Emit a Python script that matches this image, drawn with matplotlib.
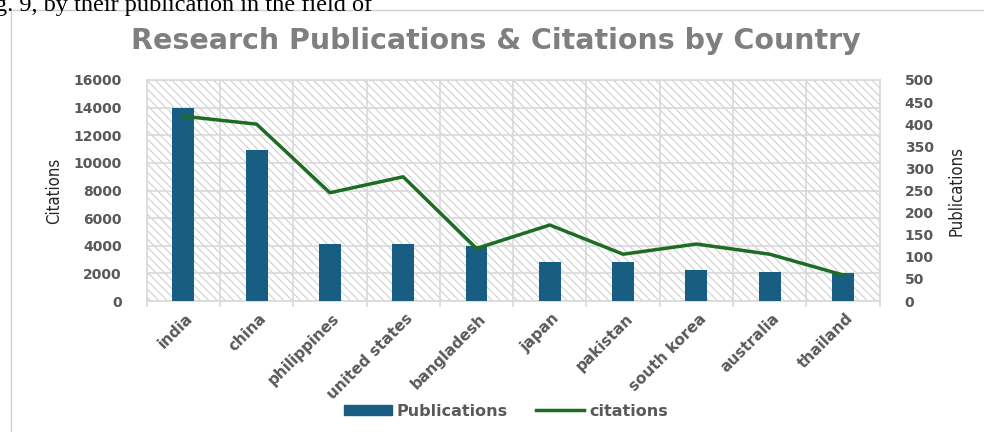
import matplotlib
matplotlib.use("Agg")
import matplotlib.pyplot as plt
from matplotlib.patches import Rectangle
from matplotlib.lines import Line2D
import numpy as np

# data
countries = ['india', 'china', 'philippines', 'united states', 'bangladesh',
             'japan', 'pakistan', 'south korea', 'australia', 'thailand']
bar_values = [14000, 10900, 4130, 4130, 4000, 2850, 2850, 2220, 2120, 2000]
line_values = [418, 400, 245, 281, 119, 172, 106, 129, 106, 59]

bar_color = '#175e82'
line_color = '#1e6b23'
text_grey = '#595959'
grid_grey = '#d9d9d9'

plt.rcParams['hatch.linewidth'] = 0.7
plt.rcParams['hatch.color'] = '#cacaca'

fig = plt.figure(figsize=(9.84, 4.32), dpi=100)
fig.patch.set_facecolor('white')

# piece of page text above the chart frame
fig.text(-0.005, 0.988, 'g. 9, by their publication in the field of',
         fontsize=17.5, family='Liberation Serif', color='black', va='center')

# chart frame
fig.patches.append(Rectangle((0.011, -0.01), 1.0, 0.987, transform=fig.transFigure,
                             facecolor='none', edgecolor='#d0d0d0', lw=1.0, zorder=0))

ax = fig.add_axes([0.149, 0.303, 0.745, 0.512])
ax.set_facecolor('white')
x = np.arange(len(countries))

# hatched plot background
ax.add_patch(Rectangle((0, 0), 1, 1, transform=ax.transAxes, facecolor='white',
                       edgecolor='#cacaca', hatch='\\\\\\\\', lw=0, zorder=0))

ax.bar(x, bar_values, width=0.3, color=bar_color, zorder=3)
ax.set_xlim(-0.5, len(countries) - 0.5)
ax.set_ylim(0, 16000)
ax.set_yticks(np.arange(0, 16001, 2000))
ax.set_xticks(x + 0.03)
ax.set_xticklabels(countries, rotation=45, ha='right', rotation_mode='anchor',
                   fontsize=11, fontweight='bold', color=text_grey)
ax.tick_params(axis='x', length=0, pad=7)
ax.set_xticks(np.arange(-0.5, len(countries), 1), minor=True)
ax.tick_params(axis='x', which='minor', length=4, color=grid_grey, width=1.2)
ax.tick_params(axis='y', length=0, pad=18, labelsize=10, labelcolor=text_grey)
for t in ax.get_yticklabels():
    t.set_fontweight('bold')

ax.grid(axis='y', color=grid_grey, lw=1.2, zorder=1)
ax.grid(axis='x', which='minor', color=grid_grey, lw=1.2, zorder=1)
ax.set_axisbelow(True)
for s in ax.spines.values():
    s.set_color(grid_grey)
    s.set_linewidth(1.2)

ax.set_ylabel('Citations', family='DejaVu Sans', fontstretch='condensed',
              fontsize=12, color='#262626', labelpad=7)

ax2 = ax.twinx()
ax2.plot(x, line_values, color=line_color, lw=2.5, zorder=4)
ax2.set_ylim(0, 500)
ax2.set_yticks(np.arange(0, 501, 50))
ax2.tick_params(axis='y', length=0, pad=18, labelsize=10, labelcolor=text_grey)
for t in ax2.get_yticklabels():
    t.set_fontweight('bold')
for s in ax2.spines.values():
    s.set_visible(False)
ax2.set_ylabel('Publications', family='DejaVu Sans', fontstretch='condensed',
               fontsize=12, color='#262626', labelpad=10)

fig.text(0.504, 0.905, 'Research Publications & Citations by Country',
         ha='center', va='center', fontsize=20.5, fontweight='bold', color='#7f7f7f')

handles = [Rectangle((0, 0), 1, 1, color=bar_color),
           Line2D([0], [0], color=line_color, lw=2.5)]
fig.legend(handles, ['Publications', 'citations'], loc='center', ncol=2,
           bbox_to_anchor=(0.514, 0.048), frameon=False, handlelength=3.0,
           handleheight=0.6, columnspacing=1.8, handletextpad=0.3,
           prop={'size': 11.5, 'weight': 'bold'}, labelcolor=text_grey)

fig.savefig('out.png', dpi=100)
